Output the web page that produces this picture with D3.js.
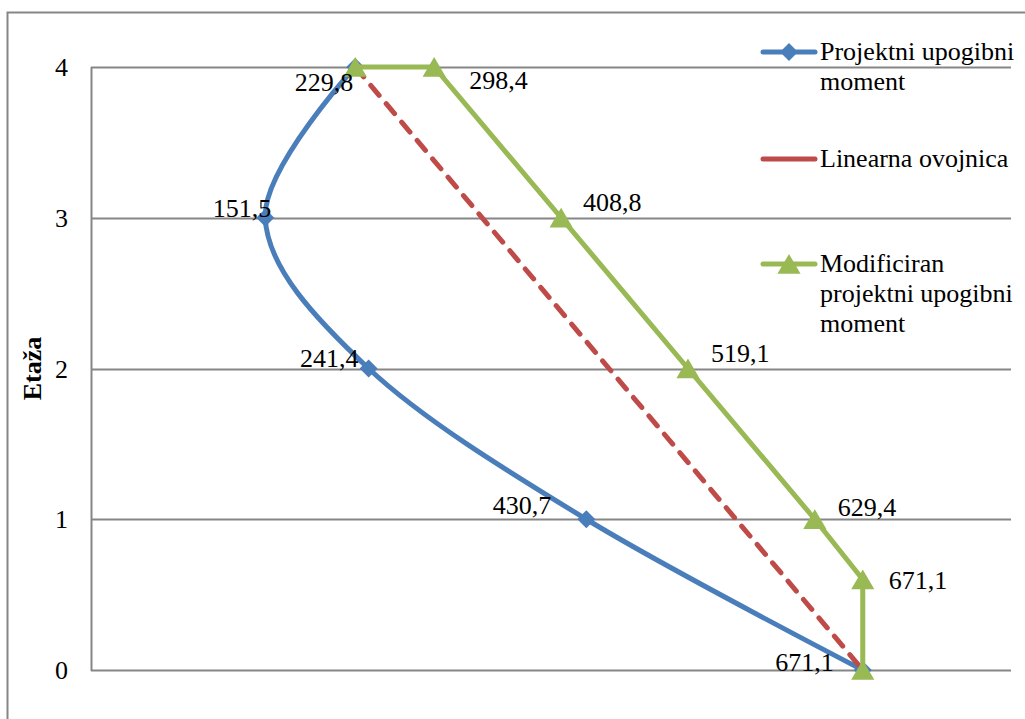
<!DOCTYPE html>
<html>
<head>
<meta charset="utf-8">
<script src="https://cdn.jsdelivr.net/npm/d3@7/dist/d3.min.js"></script>
<style>
  html, body { margin: 0; padding: 0; background: #fff; }
  svg { display: block; }
  svg text { font-family: 'Liberation Serif', 'Times New Roman', Times, 'DejaVu Serif', serif; }
</style>
</head>
<body>
<svg id="chart" width="1025" height="719"></svg>
<script>
// Bending moments per storey (etaža)
const designMomentX = [229.8, 151.5, 241.4, 430.7, 671.1];
const designMomentY = [4, 3, 2, 1, 0];
const envelopeX = [229.8, 671.1];
const envelopeY = [4, 0];
const modifiedMomentX = [229.8, 298.4, 408.8, 519.1, 629.4, 671.1, 671.1];
const modifiedMomentY = [4, 4, 3, 2, 1, 0.6, 0];
const yTicks = [0, 1, 2, 3, 4];
const seriesNames = [
  ["Projektni upogibni", "moment"],
  ["Linearna ovojnica"],
  ["Modificiran", "projektni upogibni", "moment"]
];
const yTitle = "Etaža";

// label placement for data value labels (index into series -> offset)
const designLabelPos = [
  { dx: -2, dy: 15, anchor: "end" },
  { dx: 6, dy: -10, anchor: "end" },
  { dx: -10, dy: -11, anchor: "end" },
  { dx: -35, dy: -14, anchor: "end" },
  { dx: -29, dy: -8, anchor: "end" }
];
const modifiedLabelPos = [
  null,
  { dx: 35, dy: 13, anchor: "start" },
  { dx: 22, dy: -16, anchor: "start" },
  { dx: 23, dy: -16, anchor: "start" },
  { dx: 23, dy: -12, anchor: "start" },
  { dx: 26, dy: 0, anchor: "start" },
  null
];

const fmt = v => d3.format(".1f")(v).replace(".", ",");
const serif = "'Liberation Serif', 'Times New Roman', Times, 'DejaVu Serif', serif";

const svg = d3.select("#chart");
const plot = { left: 91, right: 1011, top: 67, bottom: 670 };

const x = d3.scaleLinear().domain([0, 800]).range([plot.left, plot.right]);
const y = d3.scaleLinear().domain([0, 4]).range([plot.bottom, plot.top]);

const gridColor = "#868686";
const blue = "#4A7EBB", red = "#BE4B48", green = "#98B954";
const fontSize = 26;

// chart frame
svg.append("rect")
  .attr("x", 7.5).attr("y", 12.5)
  .attr("width", 1100).attr("height", 800)
  .attr("fill", "none").attr("stroke", gridColor).attr("stroke-width", 2);

// horizontal gridlines
svg.append("g").selectAll("line").data(yTicks).join("line")
  .attr("x1", plot.left).attr("x2", plot.right)
  .attr("y1", d => Math.round(y(d)) + 0.5).attr("y2", d => Math.round(y(d)) + 0.5)
  .attr("stroke", gridColor).attr("stroke-width", 2);

// y axis line
svg.append("line")
  .attr("x1", plot.left + 0.5).attr("x2", plot.left + 0.5)
  .attr("y1", plot.top).attr("y2", plot.bottom + 1)
  .attr("stroke", gridColor).attr("stroke-width", 2);

// y tick labels
svg.append("g").selectAll("text").data(yTicks).join("text")
  .attr("x", plot.left - 23).attr("y", d => y(d) + 9)
  .attr("text-anchor", "end")
  .attr("font-family", serif)
  .attr("font-size", fontSize)
  .text(d => d);

// y axis title
svg.append("text")
  .attr("transform", `translate(41, ${(plot.top + plot.bottom) / 2}) rotate(-90)`)
  .attr("text-anchor", "middle")
  .attr("font-family", serif)
  .attr("font-size", fontSize)
  .attr("font-weight", "bold")
  .text(yTitle);

const design = designMomentX.map((v, i) => ({ x: v, y: designMomentY[i] }));
const envelope = envelopeX.map((v, i) => ({ x: v, y: envelopeY[i] }));
const modified = modifiedMomentX.map((v, i) => ({ x: v, y: modifiedMomentY[i] }));

const smoothLine = d3.line().x(d => x(d.x)).y(d => y(d.y)).curve(d3.curveCardinal.tension(0));
const straightLine = d3.line().x(d => x(d.x)).y(d => y(d.y));

const diamond = s => `M0,${-s}L${s},0L0,${s}L${-s},0Z`;
const triangle = s => `M0,${-s}L${s * 1.05},${s * 0.8}L${-s * 1.05},${s * 0.8}Z`;

// design moment (smoothed)
svg.append("path").datum(design)
  .attr("d", smoothLine)
  .attr("fill", "none").attr("stroke", blue).attr("stroke-width", 5)
  .attr("stroke-linecap", "round");
svg.append("g").selectAll("path").data(design).join("path")
  .attr("transform", d => `translate(${x(d.x)},${y(d.y)})`)
  .attr("d", diamond(9)).attr("fill", blue);

// linear envelope (dashed)
svg.append("path").datum(envelope)
  .attr("d", straightLine)
  .attr("fill", "none").attr("stroke", red).attr("stroke-width", 5)
  .attr("stroke-dasharray", "13,11").attr("stroke-linecap", "round");

// modified design moment
svg.append("path").datum(modified)
  .attr("d", straightLine)
  .attr("fill", "none").attr("stroke", green).attr("stroke-width", 5)
  .attr("stroke-linejoin", "round");
svg.append("g").selectAll("path").data(modified).join("path")
  .attr("transform", d => `translate(${x(d.x)},${y(d.y) + 1})`)
  .attr("d", triangle(11)).attr("fill", green);

// value labels
function drawLabels(data, placement) {
  svg.append("g").selectAll("text")
    .data(data.map((d, i) => ({ d, p: placement[i] })).filter(o => o.p))
    .join("text")
    .attr("x", o => x(o.d.x) + o.p.dx)
    .attr("y", o => y(o.d.y) + o.p.dy + 9)
    .attr("text-anchor", o => o.p.anchor)
    .attr("font-family", serif)
    .attr("font-size", fontSize)
    .text(o => fmt(o.d.x));
}
drawLabels(design, designLabelPos);
drawLabels(modified, modifiedLabelPos);

// legend
const legendColors = [blue, red, green];
const legendTop = [60, 167, 272];
const legend = svg.append("g");
seriesNames.forEach((lines, i) => {
  const base = legendTop[i];
  const ly = base - 8;
  legend.append("line")
    .attr("x1", 763).attr("x2", 815).attr("y1", ly).attr("y2", ly)
    .attr("stroke", legendColors[i]).attr("stroke-width", 5)
    .attr("stroke-linecap", "round");
  if (i === 0) {
    legend.append("path").attr("transform", `translate(789,${ly})`)
      .attr("d", diamond(9)).attr("fill", blue);
  } else if (i === 2) {
    legend.append("path").attr("transform", `translate(789,${ly + 1})`)
      .attr("d", triangle(11)).attr("fill", green);
  }
  lines.forEach((t, j) => {
    legend.append("text")
      .attr("x", 820).attr("y", base + j * 30)
      .attr("font-family", serif)
      .attr("font-size", fontSize)
      .text(t);
  });
});
</script>
</body>
</html>
